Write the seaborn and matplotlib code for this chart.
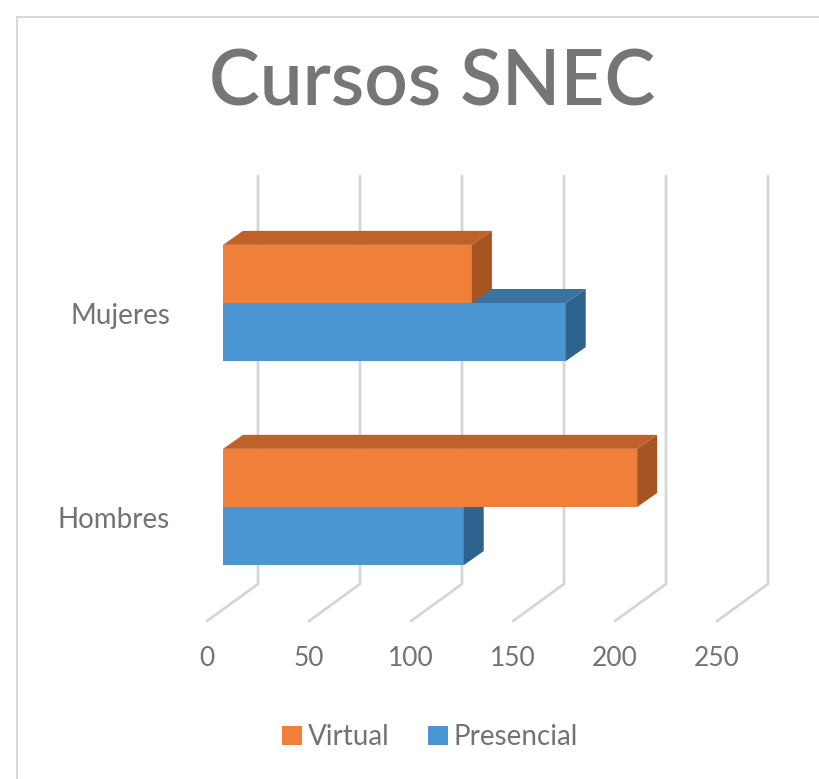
import matplotlib
matplotlib.use("Agg")
import matplotlib.pyplot as plt
import seaborn as sns
import pandas as pd
from matplotlib.patches import Polygon, Patch, Rectangle
from matplotlib.transforms import offset_copy

# data
generos = ["Mujeres", "Hombres"]
virtual = [122, 203]
presencial = [168, 118]
series = ["Virtual", "Presencial"]
x_ticks = [0, 50, 100, 150, 200, 250]

colores = {"Virtual": "#F07F3A", "Presencial": "#4B95D2"}
tapa = {"Virtual": "#BF6128", "Presencial": "#3C72A0"}
lado = {"Virtual": "#A55422", "Presencial": "#30628E"}
gris_txt = "#737373"

df = pd.DataFrame({
    "genero": generos * 2,
    "modo": ["Virtual"] * 2 + ["Presencial"] * 2,
    "valor": virtual + presencial,
})

sns.set_theme(style="white")
plt.rcParams["font.family"] = ["Lato", "DejaVu Sans"]

W, H = 820, 779
fig = plt.figure(figsize=(W / 100, H / 100), dpi=100)
# front plane of the bars: x 223..733 px, y 201..609 px
ax = fig.add_axes([223 / W, 1 - 609 / H, 510 / W, 408 / H])

sns.barplot(data=df, y="genero", x="valor", hue="modo", order=generos,
            hue_order=series, palette=colores, width=0.57, saturation=1,
            orient="h", legend=False, ax=ax, zorder=2)
ax.set_xlim(0, 250)
ax.set_ylim(1.5, -0.5)
for s in ax.spines.values():
    s.set_visible(False)
ax.set_xticks([])
ax.set_yticks([])
ax.set_xlabel("")
ax.set_ylabel("")
ax.patch.set_alpha(0)

PX = 250 / 510
PY = 2 / 408


def sh(x, y, px, py):
    return (x + px * PX, y - py * PY)


# back wall gridlines and floor lines
ylo, yhi = -0.5, 1.5
for t in x_ticks:
    top = sh(t, ylo, 35, 25)
    bot = sh(t, yhi, 35, 25)
    front = sh(t, yhi, -16, -12)
    ax.plot([top[0], bot[0], front[0]], [top[1], bot[1], front[1]],
            color="#D6D6D6", lw=2, zorder=0.5, clip_on=False)

# 3D faces of each bar
dx, dy = 20, 14
for modo, cont in zip(series, ax.containers):
    z = 3 if modo == "Virtual" else 2
    for p in cont.patches:
        p.set_zorder(z)
        p.set_edgecolor("none")
        w = p.get_width()
        y0 = p.get_y()
        y1 = y0 + p.get_height()
        top_face = [(0, y0), (w, y0), sh(w, y0, dx, dy), sh(0, y0, dx, dy)]
        side_face = [(w, y0), (w, y1), sh(w, y1, dx, dy), sh(w, y0, dx, dy)]
        ax.add_patch(Polygon(top_face, closed=True, facecolor=tapa[modo],
                             edgecolor="none", zorder=z + 0.1, clip_on=False))
        ax.add_patch(Polygon(side_face, closed=True, facecolor=lado[modo],
                             edgecolor="none", zorder=z + 0.1, clip_on=False))

# tick labels on the floor front edge
tr_x = offset_copy(ax.transData, fig=fig, x=-16, y=-49, units="dots")
for t in x_ticks:
    ax.text(t, yhi, str(t), transform=tr_x, ha="center", va="center",
            fontsize=19, color=gris_txt)

tr_y = offset_copy(ax.transData, fig=fig, x=-53, y=-13, units="dots")
for i, g in enumerate(generos):
    ax.text(0, i, g, transform=tr_y, ha="right", va="center",
            fontsize=20, color=gris_txt)

fig.text(432 / W, 1 - 84 / H, "Cursos SNEC", ha="center", va="center",
         fontsize=55, fontweight="semibold", color="#767676")

handles = [Patch(facecolor=colores[m], edgecolor="none", label=m) for m in series]
fig.legend(handles=handles, loc="center", bbox_to_anchor=(430 / W, 1 - 737 / H),
           ncol=2, frameon=False, fontsize=20, handlelength=0.7,
           handleheight=0.7, handletextpad=0.2, columnspacing=1.4,
           labelcolor=gris_txt)

# chart frame
fig.patches.append(Rectangle((17 / W, -0.05), 1.1, 1 - 17 / H + 0.05,
                             transform=fig.transFigure, fill=False,
                             edgecolor="#D9D9D9", lw=1.5))

fig.savefig("out.png", dpi=100)
